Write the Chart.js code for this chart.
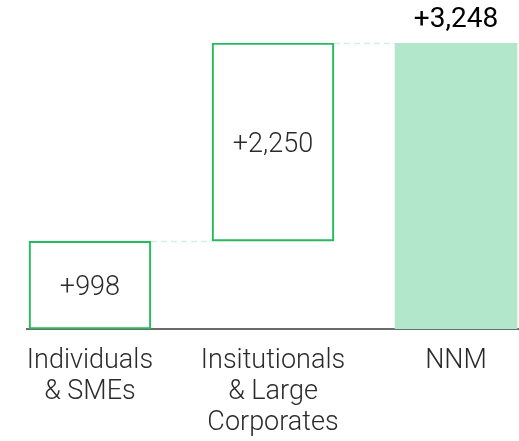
<!DOCTYPE html>
<html>
<head>
<meta charset="utf-8">
<script src="https://cdn.jsdelivr.net/npm/chart.js@4"></script>
<style>
  html, body { margin: 0; padding: 0; background: #fff; }
  #wrap { width: 519px; height: 441px; position: relative; }
</style>
</head>
<body>
<div id="wrap"><canvas id="mycanvas"></canvas></div>
<script>
// chart values
var categories = [['Individuals', '& SMEs'], ['Insitutionals', '& Large', 'Corporates'], ['NNM']];
var increments = [998, 2250];
var total = 3248;
var labels = ['+998', '+2,250', '+3,248'];

// build floating ranges for the waterfall
var ranges = [];
var run = 0;
for (var i = 0; i < increments.length; i++) {
  ranges.push({x: i, y: [run, run + increments[i]]});
  run += increments[i];
}
ranges.push({x: increments.length, y: [0, total]});

var green = '#27bb5f';
var fill = '#b3e7cc';

var connectors = {
  id: 'connectors',
  afterDatasetsDraw: function(chart) {
    var ctx = chart.ctx;
    var meta = chart.getDatasetMeta(0);
    var ys = chart.scales.y;
    ctx.save();
    ctx.strokeStyle = '#d3f0e2';
    ctx.lineWidth = 1.5;
    ctx.setLineDash([6, 4]);
    for (var i = 0; i < meta.data.length - 1; i++) {
      var a = meta.data[i], b = meta.data[i + 1];
      var y = Math.round(ys.getPixelForValue(ranges[i].y[1])) + 0.5;
      ctx.beginPath();
      ctx.moveTo(a.x + a.width / 2, y);
      ctx.lineTo(b.x - b.width / 2, y);
      ctx.stroke();
    }
    ctx.restore();
  }
};

var valueLabels = {
  id: 'valueLabels',
  afterDatasetsDraw: function(chart) {
    var ctx = chart.ctx;
    var meta = chart.getDatasetMeta(0);
    ctx.save();
    ctx.textAlign = 'center';
    ctx.textBaseline = 'middle';
    meta.data.forEach(function(bar, i) {
      if (i < increments.length) {
        ctx.fillStyle = '#2b2b2b';
        ctx.font = '300 27px Roboto';
        ctx.fillText(labels[i], bar.x, (bar.y + bar.base) / 2 + 3);
      } else {
        ctx.fillStyle = '#000';
        ctx.font = '400 28px Roboto';
        ctx.fillText(labels[i], bar.x, bar.y - 23);
      }
    });
    ctx.restore();
  }
};

var ctx = document.getElementById('mycanvas');
var chart = new Chart(ctx, {
  type: 'bar',
  data: {
    datasets: [{
      data: ranges,
      backgroundColor: ['rgba(255,255,255,0)', 'rgba(255,255,255,0)', fill],
      borderColor: [green, green, fill],
      borderWidth: [1.5, 1.5, 0],
      borderSkipped: false,
      barThickness: 122
    }]
  },
  options: {
    responsive: true,
    maintainAspectRatio: false,
    animation: false,
    layout: { padding: { top: 43, left: 27, right: 0, bottom: 0 } },
    plugins: { legend: { display: false }, tooltip: { enabled: false } },
    scales: {
      x: {
        type: 'linear',
        offset: false,
        min: -0.344,
        max: 2.344,
        grid: { display: false, drawTicks: false, offset: false },
        border: { display: true, color: '#6b6b6b', width: 2 },
        afterBuildTicks: function(scale) {
          scale.ticks = categories.map(function(c, i) { return {value: i}; });
        },
        afterFit: function(scale) { scale.height = 112; },
        ticks: {
          padding: 17,
          color: '#2b2b2b',
          maxRotation: 0,
          autoSkip: false,
          font: { family: 'Roboto', size: 27, weight: '300', lineHeight: 1.15 },
          callback: function(v) { return categories[v]; }
        }
      },
      y: {
        display: false,
        min: 0,
        max: total
      }
    }
  },
  plugins: [connectors, valueLabels]
});
</script>
</body>
</html>
